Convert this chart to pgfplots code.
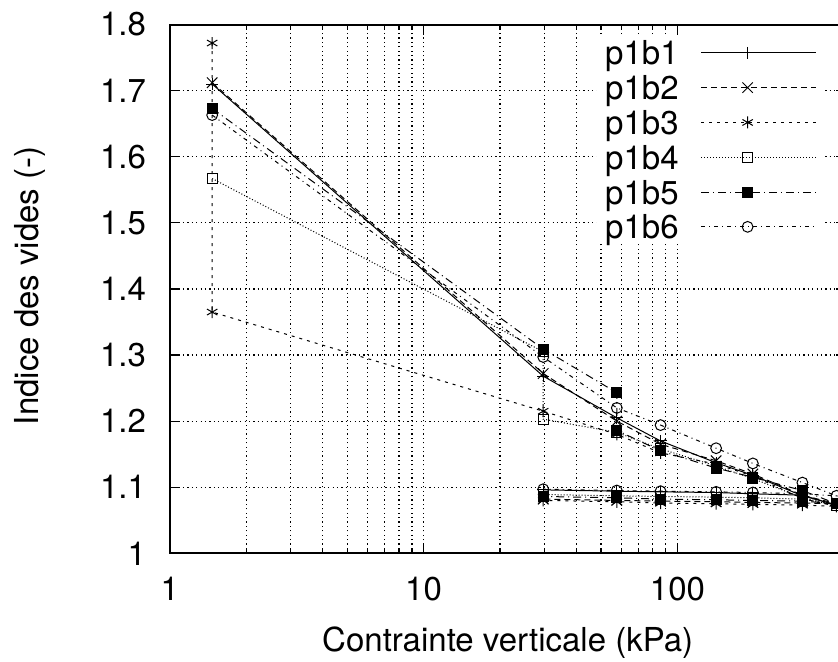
\documentclass[border=0pt]{standalone}
\usepackage{fontspec}
\setmainfont{TeX Gyre Heros}
\usepackage{pgfplots}
\pgfplotsset{compat=1.18}
\newcommand{\chartfont}{\fontsize{16.5}{19.8}\selectfont}
\begin{document}
\chartfont
\begin{tikzpicture}
\begin{axis}[
  at={(0pt,0pt)}, anchor=south west,
  scale only axis,
  width=338pt, height=264.4pt,
  xmode=log,
  xmin=1, xmax=460,
  ymin=1, ymax=1.8,
  log ticks with fixed point,
  xtick={1,10,100},
  ytick={1,1.1,1.2,1.3,1.4,1.5,1.6,1.7,1.8},
  /pgf/number format/assume math mode=true,
  every tick label/.append style={font=\chartfont},
  yticklabel style={xshift=-6.2pt},
  xticklabel style={yshift=-6pt},
  grid=both,
  major grid style={black, line width=0.6pt, dash pattern=on 0.6pt off 1.6pt},
  minor grid style={black, line width=0.6pt, dash pattern=on 0.6pt off 1.6pt},
  major tick length=5pt, minor tick length=2.5pt,
  tick style={black, line width=0.6pt},
  axis line style={line width=1pt},
  xlabel={Contrainte verticale (kPa)},
  ylabel={Indice des vides (-)},
  xlabel style={font=\chartfont, at={(axis description cs:0.5,-0.1850)}, anchor=base},
  ylabel style={font=\chartfont, at={(axis description cs:-0.1940,0.506)}, anchor=base},
  legend plot pos=right,
  legend cell align=right,
  legend style={
    at={(axis description cs:0.9694,0.9801)}, anchor=north east,
    draw=none, fill=white, inner xsep=4pt, inner ysep=0pt,
    column sep=11pt, row sep=0pt,
    font=\chartfont,
    nodes={inner sep=0pt, text height=14.7pt, text depth=2.7pt},
  },
  legend image code/.code={
    \draw[mark repeat=2,mark phase=2,#1] plot coordinates {(0pt,0pt) (23.25pt,0pt) (46.5pt,0pt)};
    \path (0pt,0pt) -- (57.5pt,0pt);
  },
  every axis plot/.append style={black, line width=0.5pt},
]
\addplot[black, line width=0.5pt, solid, mark=+, mark size=3pt, mark options={solid}] coordinates {
(1.47,1.710) (29.6,1.268) (57.7,1.205) (85.8,1.170) (142,1.137) (198.2,1.118) (310.6,1.087) (423,1.073)
(310.6,1.088) (198.2,1.090) (142,1.092) (85.8,1.093) (57.7,1.094) (29.6,1.096)};
\addlegendentry{p1b1}
\addplot[black, line width=0.5pt, dash pattern=on 3pt off 2pt, mark=x, mark size=3.7pt, mark options={solid}] coordinates {
(1.47,1.712) (29.6,1.272) (57.7,1.200) (85.8,1.165) (142,1.140) (198.2,1.120) (310.6,1.088) (423,1.075)
(310.6,1.076) (198.2,1.077) (142,1.078) (85.8,1.079) (57.7,1.080) (29.6,1.082)};
\addlegendentry{p1b2}
\addplot[black, line width=0.5pt, dash pattern=on 1.5pt off 2.5pt, mark=asterisk, mark size=3pt, mark options={solid}] coordinates {
(1.47,1.772) (1.47,1.365) (29.6,1.215) (57.7,1.180) (85.8,1.152) (142,1.135) (198.2,1.117) (310.6,1.083) (423,1.071)
(310.6,1.073) (198.2,1.074) (142,1.075) (85.8,1.076) (57.7,1.078) (29.6,1.080)};
\addlegendentry{p1b3}
\addplot[black, line width=0.5pt, dash pattern=on 0.5pt off 1pt, mark=square, mark size=2.5pt, mark options={solid}] coordinates {
(1.47,1.567) (29.6,1.305) (29.6,1.203) (57.7,1.183) (85.8,1.158) (142,1.132) (198.2,1.113) (310.6,1.084) (423,1.073)
(310.6,1.082) (198.2,1.084) (142,1.085) (85.8,1.086) (57.7,1.087) (29.6,1.089)};
\addlegendentry{p1b4}
\addplot[black, line width=0.5pt, dash pattern=on 4pt off 2pt on 0.5pt off 2pt, mark=square*, mark size=2.5pt, mark options={solid}] coordinates {
(1.47,1.673) (29.6,1.309) (57.7,1.243) (57.7,1.186) (85.8,1.155) (142,1.129) (198.2,1.115) (310.6,1.095) (423,1.075)
(310.6,1.079) (198.2,1.080) (142,1.081) (85.8,1.082) (57.7,1.084) (29.6,1.086)};
\addlegendentry{p1b5}
\addplot[black, line width=0.5pt, dash pattern=on 2pt off 2pt on 0.5pt off 2pt, mark=o, mark size=2.7pt, mark options={solid}] coordinates {
(1.47,1.663) (29.6,1.297) (57.7,1.220) (85.8,1.194) (142,1.159) (198.2,1.136) (310.6,1.107) (423,1.087)
(310.6,1.090) (198.2,1.092) (142,1.093) (85.8,1.094) (57.7,1.095) (29.6,1.097)};
\addlegendentry{p1b6}
\end{axis}
\pgfresetboundingbox
\useasboundingbox (-84.85pt,-53.85pt) rectangle (334.15pt,276.65pt);
\end{tikzpicture}
\end{document}
